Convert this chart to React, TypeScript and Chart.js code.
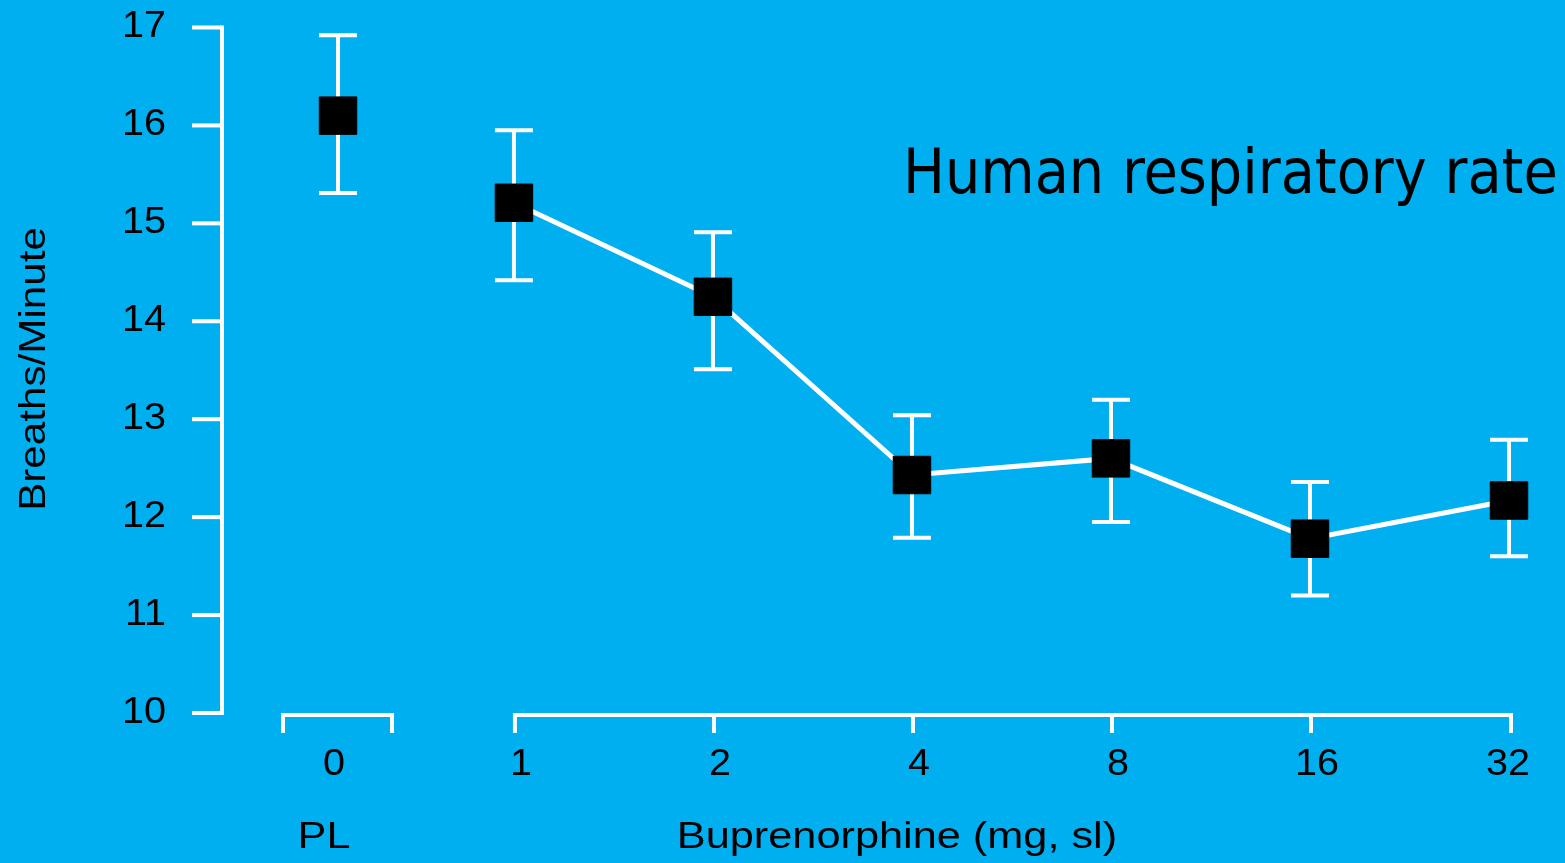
import React, { useEffect, useRef } from "react";
import { Chart, registerables } from "chart.js";

Chart.register(...registerables);

// ---- data ----
const doseLabels = ["1", "2", "4", "8", "16", "32"];
const doses = [1, 2, 4, 8, 16, 32];
const means = [15.21, 14.25, 12.43, 12.6, 11.78, 12.17];
const upper = [15.95, 14.91, 13.04, 13.2, 12.36, 12.79];
const lower = [14.42, 13.51, 11.79, 11.95, 11.2, 11.6];

const placeboLabel = "0";
const placeboMean = 16.1;
const placeboUpper = 16.92;
const placeboLower = 15.31;

const yTicks = [10, 11, 12, 13, 14, 15, 16, 17];

const titleText = "Human respiratory rate";
const yTitle = "Breaths/Minute";
const xTitle = "Buprenorphine (mg, sl)";
const placeboTitle = "PL";

// broken-axis placement of the placebo group (in log2-dose units)
const PL_POS = -0.884;

const BG = "#00AFEF";
const FONT = "'Liberation Sans', Arial, sans-serif";

function stretchText(ctx: any, text: string, x: number, y: number, sx: number, rot = 0) {
  ctx.save();
  ctx.translate(x, y);
  if (rot) ctx.rotate(rot);
  ctx.scale(sx, 1);
  ctx.fillText(text, 0, 0);
  ctx.restore();
}

const axesPlugin = {
  id: "customAxes",
  beforeDatasetsDraw(chart: any) {
    const { ctx } = chart;
    const xs = chart.scales.x;
    const ys = chart.scales.y;
    ctx.save();
    ctx.strokeStyle = "#ffffff";
    ctx.lineCap = "butt";

    // y axis
    const axX = 222;
    const yTop = ys.getPixelForValue(17);
    const yBot = ys.getPixelForValue(10);
    ctx.lineWidth = 4;
    ctx.beginPath();
    ctx.moveTo(axX, yTop - 2);
    ctx.lineTo(axX, yBot + 2);
    ctx.stroke();
    ctx.font = `36px ${FONT}`;
    ctx.fillStyle = "#000";
    ctx.textAlign = "right";
    ctx.textBaseline = "middle";
    yTicks.forEach((t) => {
      const py = ys.getPixelForValue(t);
      ctx.beginPath();
      ctx.moveTo(192, py);
      ctx.lineTo(axX, py);
      ctx.stroke();
      stretchText(ctx, String(t), 166, py, 1.1);
    });

    // x axis segments
    const baseY = yBot + 2;
    const tickEnd = baseY + 18;
    const plX = xs.getPixelForValue(PL_POS);
    ctx.beginPath();
    ctx.moveTo(plX - 57, baseY);
    ctx.lineTo(plX + 56, baseY);
    ctx.moveTo(plX - 55, baseY);
    ctx.lineTo(plX - 55, tickEnd);
    ctx.moveTo(plX + 54, baseY);
    ctx.lineTo(plX + 54, tickEnd);
    ctx.stroke();

    const firstX = xs.getPixelForValue(Math.log2(doses[0]));
    const lastX = xs.getPixelForValue(Math.log2(doses[doses.length - 1]));
    ctx.beginPath();
    ctx.moveTo(firstX - 1, baseY);
    ctx.lineTo(lastX + 4, baseY);
    ctx.stroke();
    ctx.textAlign = "center";
    doses.forEach((d, i) => {
      const px = xs.getPixelForValue(Math.log2(d));
      const isLast = i === doses.length - 1;
      const tx = isLast ? px + 2 : px + 1;
      ctx.beginPath();
      ctx.moveTo(tx, baseY);
      ctx.lineTo(tx, tickEnd);
      ctx.stroke();
      stretchText(ctx, doseLabels[i], isLast ? px - 1 : px + 7, 765, 1.1);
    });
    stretchText(ctx, placeboLabel, plX - 4, 765, 1.1);

    // axis titles
    ctx.font = `37px ${FONT}`;
    stretchText(ctx, placeboTitle, plX - 14, 838, 1.17);
    stretchText(ctx, xTitle, xs.getPixelForValue(Math.log2(4)) - 15, 838, 1.17);
    stretchText(ctx, yTitle, 35, 369, 1.14, -Math.PI / 2);

    // title
    ctx.font = `62px 'DejaVu Sans Condensed', 'DejaVu Sans', sans-serif`;
    ctx.textAlign = "left";
    ctx.textBaseline = "alphabetic";
    ctx.fillText(titleText, 903, 193);

    // error bars
    const drawErr = (xv: number, lo: number, hi: number) => {
      const px = xs.getPixelForValue(xv);
      const pl = ys.getPixelForValue(lo);
      const ph = ys.getPixelForValue(hi);
      ctx.strokeStyle = "#fff";
      ctx.lineWidth = 4;
      ctx.beginPath();
      ctx.moveTo(px, pl);
      ctx.lineTo(px, ph);
      ctx.moveTo(px - 19, pl);
      ctx.lineTo(px + 19, pl);
      ctx.moveTo(px - 19, ph);
      ctx.lineTo(px + 19, ph);
      ctx.stroke();
    };
    drawErr(PL_POS, placeboLower, placeboUpper);
    doses.forEach((d, i) => drawErr(Math.log2(d), lower[i], upper[i]));
    ctx.restore();
  },
};

export default function App() {
  const ref = useRef<HTMLCanvasElement | null>(null);
  useEffect(() => {
    if (!ref.current) return;
    const chart = new Chart(ref.current, {
      type: "line",
      data: {
        datasets: [
          {
            label: "Placebo",
            data: [{ x: PL_POS, y: placeboMean }],
            showLine: false,
            pointStyle: "rect",
            pointRadius: 26.5,
            pointBackgroundColor: "#000",
            pointBorderColor: "#000",
            pointBorderWidth: 1,
            clip: false,
          },
          {
            label: "Buprenorphine",
            data: doses.map((d, i) => ({ x: Math.log2(d), y: means[i] })),
            borderColor: "#fff",
            borderWidth: 5,
            pointStyle: "rect",
            pointRadius: 26.5,
            pointBackgroundColor: "#000",
            pointBorderColor: "#000",
            pointBorderWidth: 1,
            tension: 0,
            clip: false,
          },
        ],
      },
      options: {
        responsive: false,
        animation: false,
        layout: { padding: { left: 221, right: 56, top: 24, bottom: 150 } },
        scales: {
          x: { type: "linear", display: false, min: -1.472, max: 5 },
          y: { type: "linear", display: false, min: 10, max: 17 },
        },
        plugins: { legend: { display: false }, tooltip: { enabled: false } },
        events: [],
      },
      plugins: [axesPlugin],
    } as any);
    return () => chart.destroy();
  }, []);
  return (
    <div
      style={{
        position: "fixed",
        left: 0,
        top: 0,
        width: 1565,
        height: 863,
        background: BG,
      }}
    >
      <canvas ref={ref} width={1565} height={863} style={{ display: "block" }} />
    </div>
  );
}
